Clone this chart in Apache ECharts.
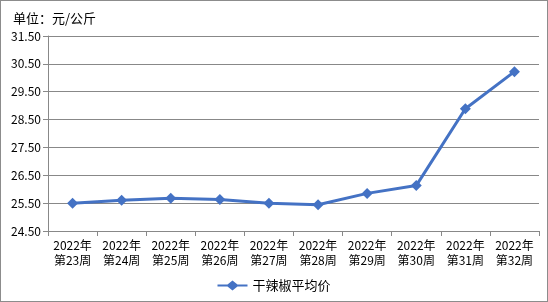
<!DOCTYPE html>
<html><head><meta charset="utf-8">
<script src="https://cdn.jsdelivr.net/npm/echarts@6/dist/echarts.min.js"></script>
<style>html,body{margin:0;padding:0;background:#fff}#c{width:548px;height:302px;box-sizing:border-box;border:1px solid #8c8c8c}</style>
</head><body><div id="c"></div>
<script>
var categories = ['2022年\n第23周','2022年\n第24周','2022年\n第25周','2022年\n第26周','2022年\n第27周','2022年\n第28周','2022年\n第29周','2022年\n第30周','2022年\n第31周','2022年\n第32周'];
var prices = [25.50, 25.60, 25.68, 25.63, 25.50, 25.44, 25.85, 26.13, 28.89, 30.22];
var seriesName = '干辣椒平均价';
var unitText = '单位：元/公斤';

var chart = echarts.init(document.getElementById('c'), null, {renderer:'canvas'});
var font = '"Noto Sans CJK SC", sans-serif';
chart.setOption({
  animation:false,
  title:{text:unitText,left:7,top:6,textStyle:{fontSize:13,fontWeight:'normal',color:'#000',fontFamily:font}},
  grid:{left:47,right:8,top:35,bottom:70},
  legend:{bottom:4,left:'center',itemWidth:30,itemHeight:10,itemGap:6,textStyle:{fontSize:13,color:'#000',fontFamily:font},
    data:[{name:seriesName,icon:'path://M0,4L10,4L15,0L20,4L30,4L30,6L20,6L15,10L10,6L0,6Z'}]},
  xAxis:{type:'category',data:categories,boundaryGap:true,
    axisLine:{lineStyle:{color:'#888',width:1}},
    axisTick:{show:true,length:5,lineStyle:{color:'#888'}},
    axisLabel:{fontSize:12,color:'#000',fontFamily:font,lineHeight:15,margin:7,interval:0}},
  yAxis:{type:'value',min:24.5,max:31.5,interval:1,
    axisLine:{show:true,lineStyle:{color:'#888'}},
    axisTick:{show:true,length:5,lineStyle:{color:'#888'}},
    splitLine:{lineStyle:{color:'#888',width:1}},
    axisLabel:{fontSize:12,color:'#000',fontFamily:font,margin:7,formatter:function(v){return v.toFixed(2);}}},
  series:[{name:seriesName,type:'line',data:prices,symbol:'diamond',symbolSize:11,
    lineStyle:{color:'#4472C4',width:3},itemStyle:{color:'#4472C4'}}]
});
</script></body></html>
